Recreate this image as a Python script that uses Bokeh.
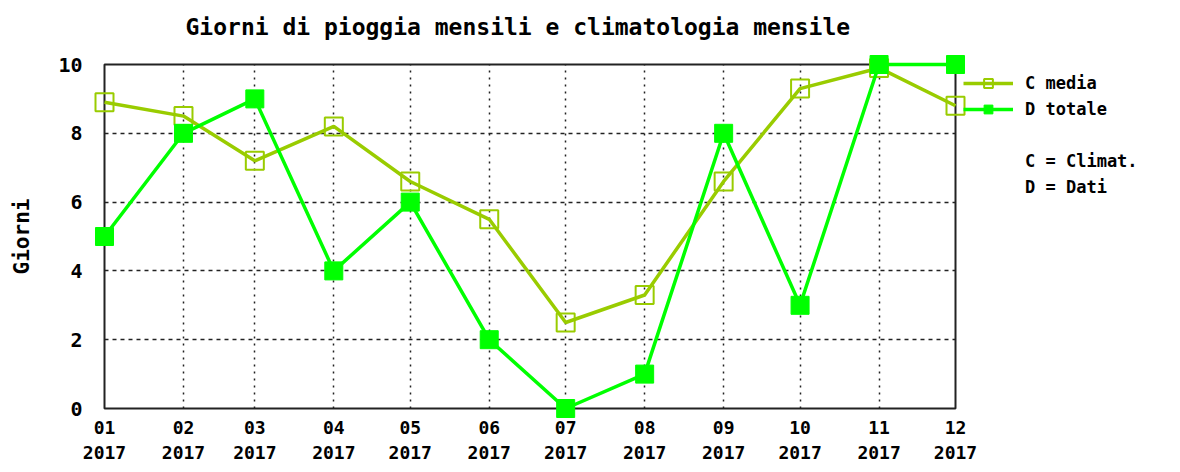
import pandas as pd
from bokeh.plotting import figure
from bokeh.models import Range1d, FixedTicker, DatetimeTickFormatter, Legend, LegendItem, Title
from bokeh.embed import file_html
from bokeh.resources import INLINE

# ---- data ----
months = ["2017-01-01", "2017-02-01", "2017-03-01", "2017-04-01", "2017-05-01", "2017-06-01",
          "2017-07-01", "2017-08-01", "2017-09-01", "2017-10-01", "2017-11-01", "2017-12-01"]
clim_media = [8.9, 8.5, 7.2, 8.2, 6.6, 5.5, 2.5, 3.3, 6.6, 9.3, 9.9, 8.8]
dati_totale = [5, 8, 9, 4, 6, 2, 0, 1, 8, 3, 10, 10]
y_ticks = [0, 2, 4, 6, 8, 10]
title_text = "Giorni di pioggia mensili e climatologia mensile"

C_COLOR = "#99cc00"
D_COLOR = "#00ff00"
FONT = "DejaVu Sans Mono"

dates = pd.to_datetime(months)
tick_ms = [int(d.value // 10**6) for d in dates]

p = figure(x_axis_type="datetime",
           frame_width=851, frame_height=344,
           min_border_left=104, min_border_top=64, min_border_right=205, min_border_bottom=56,
           x_range=Range1d(dates[0], dates[-1]), y_range=Range1d(0, 10),
           output_backend="svg", toolbar_location=None)

p.outline_line_color = "#222222"
p.outline_line_width = 2
p.background_fill_color = "white"
p.border_fill_color = "white"

# spacer between plot area and title, then the title itself
p.add_layout(Title(text=" ", text_font_size="10px", standoff=12), "above")
p.add_layout(Title(text=title_text, text_font=FONT, text_font_style="bold",
                   text_font_size="23px", text_color="black", align="left",
                   standoff=0, offset=81), "above")

# axes
p.xaxis.ticker = FixedTicker(ticks=tick_ms)
fmt = DatetimeTickFormatter(days="%m\n%Y", months="%m\n%Y", years="%m\n%Y")
if "strip_leading_zeros" in fmt.properties():
    fmt.strip_leading_zeros = False
p.xaxis.formatter = fmt
p.yaxis.ticker = FixedTicker(ticks=y_ticks)
for ax in (p.xaxis, p.yaxis):
    ax.axis_line_color = None
    ax.major_tick_line_color = None
    ax.minor_tick_line_color = None
    ax.major_label_text_font = FONT
    ax.major_label_text_font_style = "bold"
    ax.major_label_text_font_size = "20px"
    ax.major_label_text_color = "black"
p.xaxis.major_label_text_font_size = "18px"
p.xaxis.major_label_standoff = 2
p.yaxis.major_label_standoff = 16
p.yaxis.axis_label = "Giorni"
p.yaxis.axis_label_text_font = FONT
p.yaxis.axis_label_text_font_style = "bold"
p.yaxis.axis_label_text_font_size = "21px"
p.yaxis.axis_label_text_color = "black"
p.yaxis.axis_label_standoff = 21

p.xgrid.grid_line_color = "#222222"
p.xgrid.grid_line_dash = "2 5"
p.xgrid.grid_line_width = 1.5
p.ygrid.grid_line_color = "#222222"
p.ygrid.grid_line_dash = "4 4"
p.ygrid.grid_line_width = 1.5

# series
c_line = p.line(dates, clim_media, line_color=C_COLOR, line_width=3.5, level="overlay")
c_pts = p.scatter(dates, clim_media, marker="square", size=18, fill_color=None,
                  line_color=C_COLOR, line_width=2, level="overlay")
d_line = p.line(dates, dati_totale, line_color=D_COLOR, line_width=3.5, level="overlay")
d_pts = p.scatter(dates, dati_totale, marker="square", size=18, fill_color=D_COLOR,
                  line_color=D_COLOR, line_width=1, level="overlay")
blank = p.line(x=[], y=[], line_alpha=0)

legend = Legend(items=[
    LegendItem(label="C media", renderers=[c_line, c_pts]),
    LegendItem(label="D totale", renderers=[d_line, d_pts]),
    LegendItem(label=" ", renderers=[blank]),
    LegendItem(label="C = Climat.", renderers=[blank]),
    LegendItem(label="D = Dati", renderers=[blank]),
], location="top_left")
legend.border_line_color = None
legend.background_fill_alpha = 0
legend.glyph_width = 50
legend.glyph_height = 22
legend.label_standoff = 12
legend.spacing = 4
legend.padding = 0
legend.margin = 8
legend.label_text_font = FONT
legend.label_text_font_style = "bold"
legend.label_text_font_size = "17px"
legend.label_text_color = "black"
p.add_layout(legend, "right")

open("out.html", "w").write(file_html(p, INLINE))
